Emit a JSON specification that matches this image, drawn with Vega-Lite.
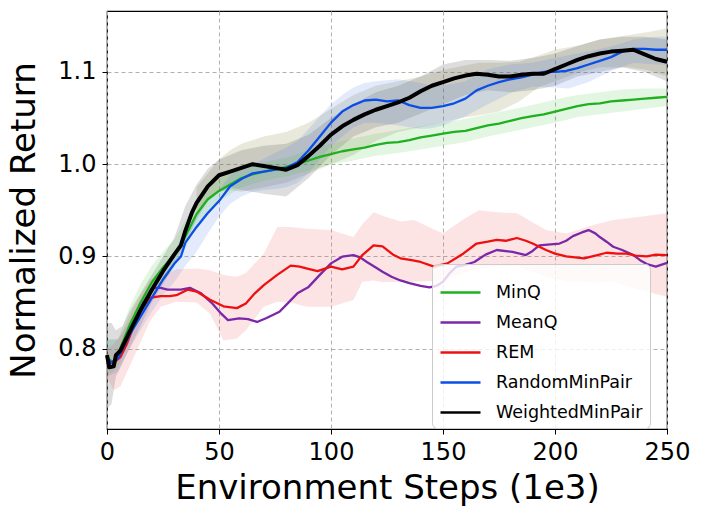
{
  "$schema": "https://vega.github.io/schema/vega-lite/v6.json",
  "width": 560,
  "height": 418,
  "autosize": {"type": "none"},
  "padding": {"left": 107, "top": 11, "right": 38, "bottom": 89},
  "background": "white",
  "config": {
    "font": "DejaVu Sans",
    "view": {"stroke": "black", "strokeWidth": 1.2},
    "axis": {
      "grid": true, "gridColor": "#b0b0b0", "gridDash": [4, 3], "gridWidth": 1,
      "domain": false, "tickColor": "black", "tickSize": 5, "tickWidth": 1,
      "labelFont": "DejaVu Sans", "labelFontSize": 24, "labelColor": "black", "labelFlush": false,
      "titleFont": "DejaVu Sans", "titleFontSize": 34, "titleFontWeight": "normal", "titleColor": "black"
    }
  },
  "datasets": {
    "lines": [
      {"series": "MinQ", "step": 0, "ret": 0.79}, {"series": "MinQ", "step": 3, "ret": 0.785}, {"series": "MinQ", "step": 5, "ret": 0.795},
      {"series": "MinQ", "step": 10, "ret": 0.825}, {"series": "MinQ", "step": 15, "ret": 0.85}, {"series": "MinQ", "step": 20, "ret": 0.872},
      {"series": "MinQ", "step": 25, "ret": 0.888}, {"series": "MinQ", "step": 30, "ret": 0.902}, {"series": "MinQ", "step": 32, "ret": 0.908},
      {"series": "MinQ", "step": 35, "ret": 0.922}, {"series": "MinQ", "step": 40, "ret": 0.946}, {"series": "MinQ", "step": 45, "ret": 0.962},
      {"series": "MinQ", "step": 50, "ret": 0.971}, {"series": "MinQ", "step": 55, "ret": 0.978}, {"series": "MinQ", "step": 60, "ret": 0.985},
      {"series": "MinQ", "step": 65, "ret": 0.989}, {"series": "MinQ", "step": 70, "ret": 0.992}, {"series": "MinQ", "step": 75, "ret": 0.994},
      {"series": "MinQ", "step": 80, "ret": 0.997}, {"series": "MinQ", "step": 85, "ret": 1.0}, {"series": "MinQ", "step": 90, "ret": 1.004},
      {"series": "MinQ", "step": 95, "ret": 1.008}, {"series": "MinQ", "step": 100, "ret": 1.011}, {"series": "MinQ", "step": 105, "ret": 1.014},
      {"series": "MinQ", "step": 110, "ret": 1.016}, {"series": "MinQ", "step": 115, "ret": 1.018}, {"series": "MinQ", "step": 120, "ret": 1.021},
      {"series": "MinQ", "step": 125, "ret": 1.023}, {"series": "MinQ", "step": 130, "ret": 1.024}, {"series": "MinQ", "step": 135, "ret": 1.026},
      {"series": "MinQ", "step": 140, "ret": 1.029}, {"series": "MinQ", "step": 145, "ret": 1.031}, {"series": "MinQ", "step": 150, "ret": 1.033},
      {"series": "MinQ", "step": 155, "ret": 1.035}, {"series": "MinQ", "step": 160, "ret": 1.036}, {"series": "MinQ", "step": 165, "ret": 1.039},
      {"series": "MinQ", "step": 170, "ret": 1.042}, {"series": "MinQ", "step": 175, "ret": 1.044}, {"series": "MinQ", "step": 180, "ret": 1.047},
      {"series": "MinQ", "step": 185, "ret": 1.05}, {"series": "MinQ", "step": 190, "ret": 1.052}, {"series": "MinQ", "step": 195, "ret": 1.054},
      {"series": "MinQ", "step": 200, "ret": 1.057}, {"series": "MinQ", "step": 205, "ret": 1.06}, {"series": "MinQ", "step": 210, "ret": 1.063},
      {"series": "MinQ", "step": 215, "ret": 1.065}, {"series": "MinQ", "step": 220, "ret": 1.066}, {"series": "MinQ", "step": 225, "ret": 1.068},
      {"series": "MinQ", "step": 230, "ret": 1.069}, {"series": "MinQ", "step": 235, "ret": 1.07}, {"series": "MinQ", "step": 240, "ret": 1.071},
      {"series": "MinQ", "step": 245, "ret": 1.072}, {"series": "MinQ", "step": 250, "ret": 1.073},

      {"series": "MeanQ", "step": 0, "ret": 0.785}, {"series": "MeanQ", "step": 2, "ret": 0.78}, {"series": "MeanQ", "step": 4, "ret": 0.79},
      {"series": "MeanQ", "step": 6, "ret": 0.797}, {"series": "MeanQ", "step": 9, "ret": 0.812}, {"series": "MeanQ", "step": 12, "ret": 0.828},
      {"series": "MeanQ", "step": 16, "ret": 0.849}, {"series": "MeanQ", "step": 21, "ret": 0.866}, {"series": "MeanQ", "step": 24, "ret": 0.866},
      {"series": "MeanQ", "step": 27, "ret": 0.864}, {"series": "MeanQ", "step": 33, "ret": 0.864}, {"series": "MeanQ", "step": 37, "ret": 0.866},
      {"series": "MeanQ", "step": 42, "ret": 0.86}, {"series": "MeanQ", "step": 47, "ret": 0.849}, {"series": "MeanQ", "step": 51, "ret": 0.838},
      {"series": "MeanQ", "step": 54, "ret": 0.831}, {"series": "MeanQ", "step": 59, "ret": 0.833}, {"series": "MeanQ", "step": 63, "ret": 0.832},
      {"series": "MeanQ", "step": 67, "ret": 0.829}, {"series": "MeanQ", "step": 71, "ret": 0.833}, {"series": "MeanQ", "step": 77, "ret": 0.84},
      {"series": "MeanQ", "step": 81, "ret": 0.85}, {"series": "MeanQ", "step": 85, "ret": 0.86}, {"series": "MeanQ", "step": 90, "ret": 0.867},
      {"series": "MeanQ", "step": 95, "ret": 0.88}, {"series": "MeanQ", "step": 100, "ret": 0.8925}, {"series": "MeanQ", "step": 105, "ret": 0.8997},
      {"series": "MeanQ", "step": 110, "ret": 0.9015}, {"series": "MeanQ", "step": 113, "ret": 0.899}, {"series": "MeanQ", "step": 116, "ret": 0.894},
      {"series": "MeanQ", "step": 120, "ret": 0.888}, {"series": "MeanQ", "step": 123, "ret": 0.8834}, {"series": "MeanQ", "step": 127, "ret": 0.878},
      {"series": "MeanQ", "step": 131, "ret": 0.874}, {"series": "MeanQ", "step": 135, "ret": 0.871}, {"series": "MeanQ", "step": 140, "ret": 0.868},
      {"series": "MeanQ", "step": 144, "ret": 0.8665}, {"series": "MeanQ", "step": 147, "ret": 0.868}, {"series": "MeanQ", "step": 150, "ret": 0.8726},
      {"series": "MeanQ", "step": 153, "ret": 0.882}, {"series": "MeanQ", "step": 156, "ret": 0.889}, {"series": "MeanQ", "step": 160, "ret": 0.891},
      {"series": "MeanQ", "step": 164, "ret": 0.894}, {"series": "MeanQ", "step": 169, "ret": 0.902}, {"series": "MeanQ", "step": 174, "ret": 0.907},
      {"series": "MeanQ", "step": 181, "ret": 0.905}, {"series": "MeanQ", "step": 187, "ret": 0.9015}, {"series": "MeanQ", "step": 190, "ret": 0.906},
      {"series": "MeanQ", "step": 193, "ret": 0.912}, {"series": "MeanQ", "step": 198, "ret": 0.913}, {"series": "MeanQ", "step": 202, "ret": 0.914},
      {"series": "MeanQ", "step": 205, "ret": 0.917}, {"series": "MeanQ", "step": 208, "ret": 0.922}, {"series": "MeanQ", "step": 212, "ret": 0.926},
      {"series": "MeanQ", "step": 215, "ret": 0.9286}, {"series": "MeanQ", "step": 218, "ret": 0.925}, {"series": "MeanQ", "step": 220, "ret": 0.921},
      {"series": "MeanQ", "step": 223, "ret": 0.916}, {"series": "MeanQ", "step": 226, "ret": 0.9105}, {"series": "MeanQ", "step": 230, "ret": 0.907},
      {"series": "MeanQ", "step": 235, "ret": 0.9015}, {"series": "MeanQ", "step": 238, "ret": 0.896}, {"series": "MeanQ", "step": 241, "ret": 0.8918},
      {"series": "MeanQ", "step": 245, "ret": 0.889}, {"series": "MeanQ", "step": 250, "ret": 0.893},

      {"series": "REM", "step": 0, "ret": 0.785}, {"series": "REM", "step": 3, "ret": 0.785}, {"series": "REM", "step": 6, "ret": 0.791},
      {"series": "REM", "step": 9, "ret": 0.806}, {"series": "REM", "step": 12, "ret": 0.825}, {"series": "REM", "step": 16, "ret": 0.845},
      {"series": "REM", "step": 19, "ret": 0.855}, {"series": "REM", "step": 24, "ret": 0.857}, {"series": "REM", "step": 28, "ret": 0.857},
      {"series": "REM", "step": 31, "ret": 0.858}, {"series": "REM", "step": 36, "ret": 0.864}, {"series": "REM", "step": 40, "ret": 0.862},
      {"series": "REM", "step": 46, "ret": 0.853}, {"series": "REM", "step": 52, "ret": 0.846}, {"series": "REM", "step": 58, "ret": 0.844},
      {"series": "REM", "step": 62, "ret": 0.849}, {"series": "REM", "step": 66, "ret": 0.86}, {"series": "REM", "step": 70, "ret": 0.869},
      {"series": "REM", "step": 76, "ret": 0.88}, {"series": "REM", "step": 82, "ret": 0.89}, {"series": "REM", "step": 86, "ret": 0.889},
      {"series": "REM", "step": 89, "ret": 0.887}, {"series": "REM", "step": 94, "ret": 0.884}, {"series": "REM", "step": 100, "ret": 0.889},
      {"series": "REM", "step": 105, "ret": 0.886}, {"series": "REM", "step": 110, "ret": 0.889}, {"series": "REM", "step": 114, "ret": 0.9015},
      {"series": "REM", "step": 119, "ret": 0.912}, {"series": "REM", "step": 123, "ret": 0.911}, {"series": "REM", "step": 128, "ret": 0.9015},
      {"series": "REM", "step": 131, "ret": 0.898}, {"series": "REM", "step": 136, "ret": 0.896}, {"series": "REM", "step": 140, "ret": 0.894},
      {"series": "REM", "step": 146, "ret": 0.889}, {"series": "REM", "step": 152, "ret": 0.8925}, {"series": "REM", "step": 159, "ret": 0.903},
      {"series": "REM", "step": 165, "ret": 0.914}, {"series": "REM", "step": 170, "ret": 0.916}, {"series": "REM", "step": 174, "ret": 0.918},
      {"series": "REM", "step": 178, "ret": 0.917}, {"series": "REM", "step": 183, "ret": 0.92}, {"series": "REM", "step": 187, "ret": 0.917},
      {"series": "REM", "step": 190, "ret": 0.914}, {"series": "REM", "step": 196, "ret": 0.907}, {"series": "REM", "step": 200, "ret": 0.903},
      {"series": "REM", "step": 205, "ret": 0.9}, {"series": "REM", "step": 213, "ret": 0.898}, {"series": "REM", "step": 218, "ret": 0.901},
      {"series": "REM", "step": 223, "ret": 0.904}, {"series": "REM", "step": 228, "ret": 0.903}, {"series": "REM", "step": 232, "ret": 0.903},
      {"series": "REM", "step": 236, "ret": 0.901}, {"series": "REM", "step": 241, "ret": 0.9}, {"series": "REM", "step": 245, "ret": 0.902},
      {"series": "REM", "step": 250, "ret": 0.9015},

      {"series": "RandomMinPair", "step": 0, "ret": 0.79}, {"series": "RandomMinPair", "step": 2, "ret": 0.785}, {"series": "RandomMinPair", "step": 5, "ret": 0.79},
      {"series": "RandomMinPair", "step": 10, "ret": 0.815}, {"series": "RandomMinPair", "step": 15, "ret": 0.835}, {"series": "RandomMinPair", "step": 20, "ret": 0.855},
      {"series": "RandomMinPair", "step": 25, "ret": 0.875}, {"series": "RandomMinPair", "step": 30, "ret": 0.892}, {"series": "RandomMinPair", "step": 33, "ret": 0.9},
      {"series": "RandomMinPair", "step": 35, "ret": 0.915}, {"series": "RandomMinPair", "step": 40, "ret": 0.932}, {"series": "RandomMinPair", "step": 45, "ret": 0.947},
      {"series": "RandomMinPair", "step": 50, "ret": 0.96}, {"series": "RandomMinPair", "step": 55, "ret": 0.976}, {"series": "RandomMinPair", "step": 60, "ret": 0.984},
      {"series": "RandomMinPair", "step": 65, "ret": 0.99}, {"series": "RandomMinPair", "step": 70, "ret": 0.992}, {"series": "RandomMinPair", "step": 75, "ret": 0.994},
      {"series": "RandomMinPair", "step": 80, "ret": 0.996}, {"series": "RandomMinPair", "step": 85, "ret": 1.002}, {"series": "RandomMinPair", "step": 90, "ret": 1.015},
      {"series": "RandomMinPair", "step": 95, "ret": 1.03}, {"series": "RandomMinPair", "step": 100, "ret": 1.045}, {"series": "RandomMinPair", "step": 105, "ret": 1.057},
      {"series": "RandomMinPair", "step": 110, "ret": 1.064}, {"series": "RandomMinPair", "step": 115, "ret": 1.069}, {"series": "RandomMinPair", "step": 120, "ret": 1.07},
      {"series": "RandomMinPair", "step": 125, "ret": 1.068}, {"series": "RandomMinPair", "step": 130, "ret": 1.069}, {"series": "RandomMinPair", "step": 135, "ret": 1.064},
      {"series": "RandomMinPair", "step": 140, "ret": 1.061}, {"series": "RandomMinPair", "step": 145, "ret": 1.061}, {"series": "RandomMinPair", "step": 150, "ret": 1.063},
      {"series": "RandomMinPair", "step": 155, "ret": 1.066}, {"series": "RandomMinPair", "step": 160, "ret": 1.071}, {"series": "RandomMinPair", "step": 165, "ret": 1.08},
      {"series": "RandomMinPair", "step": 170, "ret": 1.085}, {"series": "RandomMinPair", "step": 175, "ret": 1.089}, {"series": "RandomMinPair", "step": 180, "ret": 1.092},
      {"series": "RandomMinPair", "step": 185, "ret": 1.094}, {"series": "RandomMinPair", "step": 190, "ret": 1.097}, {"series": "RandomMinPair", "step": 195, "ret": 1.1},
      {"series": "RandomMinPair", "step": 200, "ret": 1.1}, {"series": "RandomMinPair", "step": 205, "ret": 1.101}, {"series": "RandomMinPair", "step": 210, "ret": 1.104},
      {"series": "RandomMinPair", "step": 215, "ret": 1.108}, {"series": "RandomMinPair", "step": 220, "ret": 1.112}, {"series": "RandomMinPair", "step": 225, "ret": 1.116},
      {"series": "RandomMinPair", "step": 230, "ret": 1.122}, {"series": "RandomMinPair", "step": 235, "ret": 1.125}, {"series": "RandomMinPair", "step": 240, "ret": 1.125},
      {"series": "RandomMinPair", "step": 245, "ret": 1.124}, {"series": "RandomMinPair", "step": 250, "ret": 1.124},

      {"series": "WeightedMinPair", "step": 0, "ret": 0.793}, {"series": "WeightedMinPair", "step": 1, "ret": 0.78}, {"series": "WeightedMinPair", "step": 3, "ret": 0.781},
      {"series": "WeightedMinPair", "step": 4, "ret": 0.793}, {"series": "WeightedMinPair", "step": 6, "ret": 0.798}, {"series": "WeightedMinPair", "step": 8, "ret": 0.808},
      {"series": "WeightedMinPair", "step": 10, "ret": 0.818}, {"series": "WeightedMinPair", "step": 15, "ret": 0.842}, {"series": "WeightedMinPair", "step": 20, "ret": 0.864},
      {"series": "WeightedMinPair", "step": 25, "ret": 0.884}, {"series": "WeightedMinPair", "step": 30, "ret": 0.902}, {"series": "WeightedMinPair", "step": 33, "ret": 0.912},
      {"series": "WeightedMinPair", "step": 35, "ret": 0.928}, {"series": "WeightedMinPair", "step": 38, "ret": 0.948}, {"series": "WeightedMinPair", "step": 40, "ret": 0.958},
      {"series": "WeightedMinPair", "step": 45, "ret": 0.976}, {"series": "WeightedMinPair", "step": 50, "ret": 0.988}, {"series": "WeightedMinPair", "step": 55, "ret": 0.992},
      {"series": "WeightedMinPair", "step": 60, "ret": 0.996}, {"series": "WeightedMinPair", "step": 65, "ret": 1.0}, {"series": "WeightedMinPair", "step": 70, "ret": 0.998},
      {"series": "WeightedMinPair", "step": 75, "ret": 0.996}, {"series": "WeightedMinPair", "step": 80, "ret": 0.994}, {"series": "WeightedMinPair", "step": 85, "ret": 0.999},
      {"series": "WeightedMinPair", "step": 90, "ret": 1.009}, {"series": "WeightedMinPair", "step": 95, "ret": 1.02}, {"series": "WeightedMinPair", "step": 100, "ret": 1.032},
      {"series": "WeightedMinPair", "step": 105, "ret": 1.041}, {"series": "WeightedMinPair", "step": 110, "ret": 1.048}, {"series": "WeightedMinPair", "step": 115, "ret": 1.054},
      {"series": "WeightedMinPair", "step": 120, "ret": 1.059}, {"series": "WeightedMinPair", "step": 125, "ret": 1.063}, {"series": "WeightedMinPair", "step": 130, "ret": 1.067},
      {"series": "WeightedMinPair", "step": 135, "ret": 1.072}, {"series": "WeightedMinPair", "step": 140, "ret": 1.079}, {"series": "WeightedMinPair", "step": 145, "ret": 1.085},
      {"series": "WeightedMinPair", "step": 150, "ret": 1.089}, {"series": "WeightedMinPair", "step": 155, "ret": 1.093}, {"series": "WeightedMinPair", "step": 160, "ret": 1.096},
      {"series": "WeightedMinPair", "step": 165, "ret": 1.098}, {"series": "WeightedMinPair", "step": 170, "ret": 1.097}, {"series": "WeightedMinPair", "step": 175, "ret": 1.095},
      {"series": "WeightedMinPair", "step": 180, "ret": 1.095}, {"series": "WeightedMinPair", "step": 185, "ret": 1.097}, {"series": "WeightedMinPair", "step": 190, "ret": 1.098},
      {"series": "WeightedMinPair", "step": 195, "ret": 1.098}, {"series": "WeightedMinPair", "step": 200, "ret": 1.103}, {"series": "WeightedMinPair", "step": 205, "ret": 1.108},
      {"series": "WeightedMinPair", "step": 210, "ret": 1.113}, {"series": "WeightedMinPair", "step": 215, "ret": 1.117}, {"series": "WeightedMinPair", "step": 220, "ret": 1.12},
      {"series": "WeightedMinPair", "step": 225, "ret": 1.122}, {"series": "WeightedMinPair", "step": 230, "ret": 1.123}, {"series": "WeightedMinPair", "step": 235, "ret": 1.124},
      {"series": "WeightedMinPair", "step": 240, "ret": 1.119}, {"series": "WeightedMinPair", "step": 245, "ret": 1.114}, {"series": "WeightedMinPair", "step": 250, "ret": 1.111}
    ],
    "bands": [
      {"band": "olive", "step": 40, "lo": 0.95, "hi": 0.975}, {"band": "olive", "step": 50, "lo": 0.97, "hi": 1.005},
      {"band": "olive", "step": 55, "lo": 0.972, "hi": 1.015}, {"band": "olive", "step": 60, "lo": 0.97, "hi": 1.022},
      {"band": "olive", "step": 70, "lo": 0.975, "hi": 1.03}, {"band": "olive", "step": 80, "lo": 0.98, "hi": 1.035},
      {"band": "olive", "step": 90, "lo": 0.99, "hi": 1.045}, {"band": "olive", "step": 100, "lo": 1.0, "hi": 1.06},
      {"band": "olive", "step": 110, "lo": 1.01, "hi": 1.075}, {"band": "olive", "step": 120, "lo": 1.025, "hi": 1.085},
      {"band": "olive", "step": 130, "lo": 1.035, "hi": 1.09}, {"band": "olive", "step": 140, "lo": 1.04, "hi": 1.095},
      {"band": "olive", "step": 150, "lo": 1.045, "hi": 1.102}, {"band": "olive", "step": 158, "lo": 1.05, "hi": 1.106},
      {"band": "olive", "step": 166, "lo": 1.053, "hi": 1.11}, {"band": "olive", "step": 175, "lo": 1.057, "hi": 1.11},
      {"band": "olive", "step": 184, "lo": 1.068, "hi": 1.111}, {"band": "olive", "step": 193, "lo": 1.084, "hi": 1.118},
      {"band": "olive", "step": 200, "lo": 1.09, "hi": 1.124}, {"band": "olive", "step": 211, "lo": 1.1, "hi": 1.129},
      {"band": "olive", "step": 220, "lo": 1.105, "hi": 1.135}, {"band": "olive", "step": 233, "lo": 1.105, "hi": 1.14},
      {"band": "olive", "step": 241, "lo": 1.102, "hi": 1.143}, {"band": "olive", "step": 250, "lo": 1.095, "hi": 1.147},

      {"band": "gray", "step": 0, "lo": 0.735, "hi": 0.828}, {"band": "gray", "step": 2, "lo": 0.74, "hi": 0.828},
      {"band": "gray", "step": 4, "lo": 0.77, "hi": 0.82}, {"band": "gray", "step": 7, "lo": 0.785, "hi": 0.825},
      {"band": "gray", "step": 10, "lo": 0.8, "hi": 0.84}, {"band": "gray", "step": 15, "lo": 0.825, "hi": 0.86},
      {"band": "gray", "step": 20, "lo": 0.85, "hi": 0.88}, {"band": "gray", "step": 25, "lo": 0.87, "hi": 0.9},
      {"band": "gray", "step": 30, "lo": 0.89, "hi": 0.92}, {"band": "gray", "step": 35, "lo": 0.915, "hi": 0.955},
      {"band": "gray", "step": 40, "lo": 0.94, "hi": 0.978}, {"band": "gray", "step": 45, "lo": 0.96, "hi": 0.995},
      {"band": "gray", "step": 50, "lo": 0.97, "hi": 1.005}, {"band": "gray", "step": 55, "lo": 0.975, "hi": 1.01},
      {"band": "gray", "step": 60, "lo": 0.972, "hi": 1.015}, {"band": "gray", "step": 70, "lo": 0.968, "hi": 1.02},
      {"band": "gray", "step": 80, "lo": 0.965, "hi": 1.022}, {"band": "gray", "step": 90, "lo": 0.985, "hi": 1.032},
      {"band": "gray", "step": 100, "lo": 1.01, "hi": 1.05}, {"band": "gray", "step": 110, "lo": 1.03, "hi": 1.065},
      {"band": "gray", "step": 120, "lo": 1.04, "hi": 1.078}, {"band": "gray", "step": 130, "lo": 1.045, "hi": 1.085},
      {"band": "gray", "step": 140, "lo": 1.055, "hi": 1.095}, {"band": "gray", "step": 150, "lo": 1.065, "hi": 1.108},
      {"band": "gray", "step": 160, "lo": 1.075, "hi": 1.113}, {"band": "gray", "step": 170, "lo": 1.08, "hi": 1.113},
      {"band": "gray", "step": 180, "lo": 1.078, "hi": 1.112}, {"band": "gray", "step": 190, "lo": 1.08, "hi": 1.115},
      {"band": "gray", "step": 200, "lo": 1.085, "hi": 1.12}, {"band": "gray", "step": 210, "lo": 1.095, "hi": 1.128},
      {"band": "gray", "step": 220, "lo": 1.1, "hi": 1.135}, {"band": "gray", "step": 230, "lo": 1.105, "hi": 1.138},
      {"band": "gray", "step": 240, "lo": 1.1, "hi": 1.138}, {"band": "gray", "step": 250, "lo": 1.09, "hi": 1.135},

      {"band": "blue", "step": 0, "lo": 0.77, "hi": 0.81}, {"band": "blue", "step": 5, "lo": 0.775, "hi": 0.81},
      {"band": "blue", "step": 10, "lo": 0.8, "hi": 0.83}, {"band": "blue", "step": 15, "lo": 0.82, "hi": 0.85},
      {"band": "blue", "step": 20, "lo": 0.84, "hi": 0.87}, {"band": "blue", "step": 25, "lo": 0.858, "hi": 0.888},
      {"band": "blue", "step": 30, "lo": 0.872, "hi": 0.905}, {"band": "blue", "step": 35, "lo": 0.89, "hi": 0.928},
      {"band": "blue", "step": 40, "lo": 0.905, "hi": 0.945}, {"band": "blue", "step": 45, "lo": 0.925, "hi": 0.96},
      {"band": "blue", "step": 50, "lo": 0.943, "hi": 0.972}, {"band": "blue", "step": 55, "lo": 0.957, "hi": 0.988},
      {"band": "blue", "step": 60, "lo": 0.965, "hi": 0.995}, {"band": "blue", "step": 65, "lo": 0.97, "hi": 1.0},
      {"band": "blue", "step": 70, "lo": 0.972, "hi": 1.006}, {"band": "blue", "step": 75, "lo": 0.973, "hi": 1.012},
      {"band": "blue", "step": 80, "lo": 0.975, "hi": 1.018}, {"band": "blue", "step": 85, "lo": 0.98, "hi": 1.025},
      {"band": "blue", "step": 90, "lo": 0.99, "hi": 1.038}, {"band": "blue", "step": 95, "lo": 1.005, "hi": 1.052},
      {"band": "blue", "step": 100, "lo": 1.02, "hi": 1.065}, {"band": "blue", "step": 105, "lo": 1.03, "hi": 1.075},
      {"band": "blue", "step": 110, "lo": 1.04, "hi": 1.083}, {"band": "blue", "step": 115, "lo": 1.045, "hi": 1.088},
      {"band": "blue", "step": 120, "lo": 1.045, "hi": 1.09}, {"band": "blue", "step": 130, "lo": 1.042, "hi": 1.092},
      {"band": "blue", "step": 140, "lo": 1.038, "hi": 1.088}, {"band": "blue", "step": 145, "lo": 1.039, "hi": 1.085},
      {"band": "blue", "step": 150, "lo": 1.042, "hi": 1.085}, {"band": "blue", "step": 160, "lo": 1.052, "hi": 1.09},
      {"band": "blue", "step": 170, "lo": 1.065, "hi": 1.103}, {"band": "blue", "step": 180, "lo": 1.077, "hi": 1.108},
      {"band": "blue", "step": 190, "lo": 1.084, "hi": 1.11}, {"band": "blue", "step": 200, "lo": 1.083, "hi": 1.115},
      {"band": "blue", "step": 206, "lo": 1.082, "hi": 1.118}, {"band": "blue", "step": 215, "lo": 1.089, "hi": 1.122},
      {"band": "blue", "step": 226, "lo": 1.102, "hi": 1.128}, {"band": "blue", "step": 235, "lo": 1.11, "hi": 1.135},
      {"band": "blue", "step": 245, "lo": 1.108, "hi": 1.138}, {"band": "blue", "step": 250, "lo": 1.108, "hi": 1.138},

      {"band": "green", "step": 0, "lo": 0.77, "hi": 0.81}, {"band": "green", "step": 5, "lo": 0.78, "hi": 0.81},
      {"band": "green", "step": 10, "lo": 0.81, "hi": 0.845}, {"band": "green", "step": 15, "lo": 0.835, "hi": 0.87},
      {"band": "green", "step": 20, "lo": 0.855, "hi": 0.89}, {"band": "green", "step": 25, "lo": 0.872, "hi": 0.905},
      {"band": "green", "step": 30, "lo": 0.888, "hi": 0.918}, {"band": "green", "step": 40, "lo": 0.935, "hi": 0.96},
      {"band": "green", "step": 50, "lo": 0.96, "hi": 0.985}, {"band": "green", "step": 60, "lo": 0.975, "hi": 0.995},
      {"band": "green", "step": 70, "lo": 0.982, "hi": 1.002}, {"band": "green", "step": 80, "lo": 0.987, "hi": 1.007},
      {"band": "green", "step": 90, "lo": 0.993, "hi": 1.015}, {"band": "green", "step": 100, "lo": 1.0, "hi": 1.022},
      {"band": "green", "step": 110, "lo": 1.004, "hi": 1.028}, {"band": "green", "step": 120, "lo": 1.009, "hi": 1.033},
      {"band": "green", "step": 130, "lo": 1.012, "hi": 1.037}, {"band": "green", "step": 140, "lo": 1.016, "hi": 1.041},
      {"band": "green", "step": 150, "lo": 1.02, "hi": 1.045}, {"band": "green", "step": 160, "lo": 1.024, "hi": 1.049},
      {"band": "green", "step": 170, "lo": 1.03, "hi": 1.054}, {"band": "green", "step": 180, "lo": 1.035, "hi": 1.059},
      {"band": "green", "step": 190, "lo": 1.04, "hi": 1.064}, {"band": "green", "step": 200, "lo": 1.045, "hi": 1.07},
      {"band": "green", "step": 210, "lo": 1.051, "hi": 1.075}, {"band": "green", "step": 220, "lo": 1.054, "hi": 1.078},
      {"band": "green", "step": 230, "lo": 1.057, "hi": 1.081}, {"band": "green", "step": 240, "lo": 1.06, "hi": 1.082},
      {"band": "green", "step": 250, "lo": 1.063, "hi": 1.082},

      {"band": "red", "step": 0, "lo": 0.77, "hi": 0.8}, {"band": "red", "step": 3, "lo": 0.755, "hi": 0.805},
      {"band": "red", "step": 6, "lo": 0.759, "hi": 0.815}, {"band": "red", "step": 12, "lo": 0.791, "hi": 0.845},
      {"band": "red", "step": 19, "lo": 0.829, "hi": 0.875}, {"band": "red", "step": 24, "lo": 0.8455, "hi": 0.878},
      {"band": "red", "step": 31, "lo": 0.851, "hi": 0.886}, {"band": "red", "step": 40, "lo": 0.85, "hi": 0.887},
      {"band": "red", "step": 46, "lo": 0.838, "hi": 0.885}, {"band": "red", "step": 52, "lo": 0.809, "hi": 0.88},
      {"band": "red", "step": 58, "lo": 0.811, "hi": 0.878}, {"band": "red", "step": 62, "lo": 0.82, "hi": 0.882},
      {"band": "red", "step": 70, "lo": 0.8455, "hi": 0.903}, {"band": "red", "step": 76, "lo": 0.851, "hi": 0.932},
      {"band": "red", "step": 82, "lo": 0.85, "hi": 0.932}, {"band": "red", "step": 89, "lo": 0.8455, "hi": 0.93},
      {"band": "red", "step": 100, "lo": 0.8455, "hi": 0.9286}, {"band": "red", "step": 110, "lo": 0.8528, "hi": 0.921},
      {"band": "red", "step": 114, "lo": 0.8726, "hi": 0.935}, {"band": "red", "step": 119, "lo": 0.874, "hi": 0.948},
      {"band": "red", "step": 123, "lo": 0.872, "hi": 0.944}, {"band": "red", "step": 131, "lo": 0.8726, "hi": 0.938},
      {"band": "red", "step": 137, "lo": 0.8726, "hi": 0.9394}, {"band": "red", "step": 150, "lo": 0.874, "hi": 0.925},
      {"band": "red", "step": 159, "lo": 0.882, "hi": 0.94}, {"band": "red", "step": 166, "lo": 0.887, "hi": 0.95},
      {"band": "red", "step": 174, "lo": 0.889, "hi": 0.948}, {"band": "red", "step": 183, "lo": 0.889, "hi": 0.9467},
      {"band": "red", "step": 196, "lo": 0.878, "hi": 0.9286}, {"band": "red", "step": 205, "lo": 0.8726, "hi": 0.925},
      {"band": "red", "step": 212, "lo": 0.8726, "hi": 0.93}, {"band": "red", "step": 217, "lo": 0.872, "hi": 0.934},
      {"band": "red", "step": 226, "lo": 0.8726, "hi": 0.9394}, {"band": "red", "step": 238, "lo": 0.8636, "hi": 0.943},
      {"band": "red", "step": 250, "lo": 0.8563, "hi": 0.9467}
    ]
  },
  "encoding": {
    "x": {
      "field": "step", "type": "quantitative",
      "scale": {"domain": [0, 250], "nice": false},
      "axis": {"values": [0, 50, 100, 150, 200, 250], "title": "Environment Steps (1e3)", "labelPadding": 6, "titlePadding": 7}
    }
  },
  "layer": [
    {
      "data": {"name": "bands"},
      "transform": [{"filter": "datum.band === 'olive'"}],
      "mark": {"type": "area", "color": "#8c8c4c", "opacity": 0.2},
      "encoding": {
        "y": {"field": "lo", "type": "quantitative", "scale": {"domain": [0.713, 1.166], "nice": false, "zero": false},
              "axis": {"values": [0.8, 0.9, 1.0, 1.1], "format": ".1f", "title": "Normalized Return", "labelPadding": 6, "titlePadding": 16}},
        "y2": {"field": "hi"}
      }
    },
    {
      "data": {"name": "bands"},
      "transform": [{"filter": "datum.band === 'gray'"}],
      "mark": {"type": "area", "color": "#555555", "opacity": 0.2},
      "encoding": {"y": {"field": "lo", "type": "quantitative"}, "y2": {"field": "hi"}}
    },
    {
      "data": {"name": "bands"},
      "transform": [{"filter": "datum.band === 'blue'"}],
      "mark": {"type": "area", "color": "#3b6fe8", "opacity": 0.15},
      "encoding": {"y": {"field": "lo", "type": "quantitative"}, "y2": {"field": "hi"}}
    },
    {
      "data": {"name": "bands"},
      "transform": [{"filter": "datum.band === 'green'"}],
      "mark": {"type": "area", "color": "#3cc03c", "opacity": 0.15},
      "encoding": {"y": {"field": "lo", "type": "quantitative"}, "y2": {"field": "hi"}}
    },
    {
      "data": {"name": "bands"},
      "transform": [{"filter": "datum.band === 'red'"}],
      "mark": {"type": "area", "color": "#f06060", "opacity": 0.17},
      "encoding": {"y": {"field": "lo", "type": "quantitative"}, "y2": {"field": "hi"}}
    },
    {
      "data": {"name": "lines"},
      "mark": {"type": "line", "strokeJoin": "round"},
      "encoding": {
        "y": {"field": "ret", "type": "quantitative"},
        "color": {
          "field": "series", "type": "nominal",
          "scale": {"domain": ["MinQ", "MeanQ", "REM", "RandomMinPair", "WeightedMinPair"],
                    "range": ["#1eb01e", "#7a28a8", "#ee1010", "#0a4ee8", "#000000"]},
          "legend": {
            "title": null, "orient": "none", "legendX": 325, "legendY": 253,
            "symbolType": "stroke", "symbolSize": 1600, "labelFont": "DejaVu Sans", "labelFontSize": 17.5,
            "labelColor": "black", "rowPadding": 0, "padding": 7, "labelOffset": 14,
            "fillColor": "rgba(255,255,255,0.8)", "strokeColor": "#cccccc", "cornerRadius": 5
          }
        },
        "strokeWidth": {
          "field": "series", "type": "nominal",
          "scale": {"domain": ["MinQ", "MeanQ", "REM", "RandomMinPair", "WeightedMinPair"], "range": [2.3, 2.3, 2.3, 2.3, 4]},
          "legend": {
            "title": null, "orient": "none", "legendX": 325, "legendY": 253,
            "symbolType": "stroke", "symbolSize": 1600, "labelFont": "DejaVu Sans", "labelFontSize": 17.5,
            "labelColor": "black", "rowPadding": 0, "padding": 7, "labelOffset": 14,
            "fillColor": "rgba(255,255,255,0.8)", "strokeColor": "#cccccc", "cornerRadius": 5
          }
        }
      }
    },
    {
      "data": {"name": "lines"},
      "transform": [{"filter": "datum.series === 'WeightedMinPair'"}],
      "mark": {"type": "line", "color": "black", "strokeWidth": 4, "strokeJoin": "round"},
      "encoding": {"y": {"field": "ret", "type": "quantitative"}}
    }
  ]
}
